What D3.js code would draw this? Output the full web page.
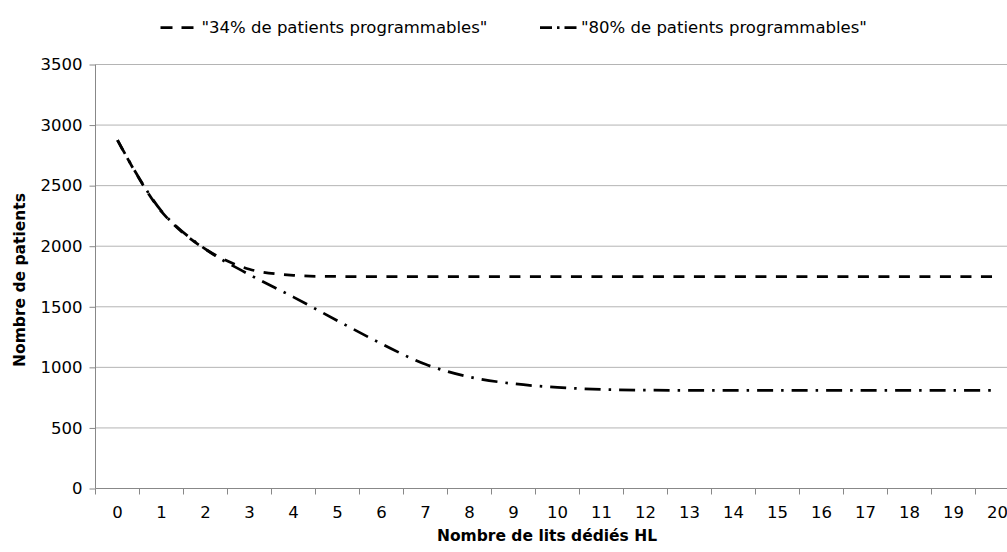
<!DOCTYPE html>
<html>
<head>
<meta charset="utf-8">
<script src="https://cdn.jsdelivr.net/npm/d3@7"></script>
<style>
  body { margin: 0; background: #fff; }
  svg { display: block; font-family: "DejaVu Sans", sans-serif; }
</style>
</head>
<body>
<svg id="chart"></svg>
<script>
// categories: number of dedicated beds
const beds = d3.range(0, 21).map(String)
const yTicks = [0, 500, 1000, 1500, 2000, 2500, 3000, 3500]

const seriesNames = ['"34% de patients programmables"', '"80% de patients programmables"']
const pct34 = [2875, 2285, 1975, 1810, 1760, 1750, 1750, 1750, 1750, 1750, 1750,
               1750, 1750, 1750, 1750, 1750, 1750, 1750, 1750, 1750, 1750]
const pct80 = [2875, 2290, 1975, 1765, 1580, 1385, 1195, 1025, 920, 865, 835,
               818, 812, 810, 810, 810, 810, 810, 810, 810, 810]

const width = 1007, height = 552
const svg = d3.select('#chart').attr('width', width).attr('height', height)

const x = d3.scaleBand().domain(beds).range([95.5, 1019.5]).padding(0)
const y = d3.scaleLinear().domain([0, 3500]).range([488.5, 64.5])

// gridlines
svg.append('g')
  .selectAll('line')
  .data(yTicks.slice(1))
  .join('line')
  .attr('x1', 95.5).attr('x2', width)
  .attr('y1', d => y(d)).attr('y2', d => y(d))
  .attr('stroke', '#b4b4b4').attr('stroke-width', 1)

// y axis
const yAxis = svg.append('g').attr('transform', 'translate(95.5,0)')
  .call(d3.axisLeft(y).tickValues(yTicks).tickFormat(d3.format('d')).tickSize(6).tickPadding(7))
yAxis.select('.domain').attr('stroke', '#888').attr('d', 'M0,' + y(3500) + 'V' + y(0))
yAxis.selectAll('.tick line').attr('stroke', '#888')
yAxis.selectAll('text').attr('font-size', 16.5).attr('fill', '#000')
  .attr('font-family', '"DejaVu Sans", sans-serif')

// x axis
const xAxis = svg.append('g').attr('transform', 'translate(0,' + y(0) + ')')
xAxis.append('line').attr('x1', 95.5).attr('x2', width).attr('stroke', '#888')
xAxis.selectAll('line.tk')
  .data(beds.concat(['end']))
  .join('line')
  .attr('class', 'tk')
  .attr('x1', d => d === 'end' ? x.range()[1] : x(d))
  .attr('x2', d => d === 'end' ? x.range()[1] : x(d))
  .attr('y1', 0).attr('y2', 6)
  .attr('stroke', '#888')
xAxis.selectAll('text')
  .data(beds)
  .join('text')
  .attr('x', d => x(d) + x.bandwidth() / 2)
  .attr('y', 29.5)
  .attr('text-anchor', 'middle')
  .attr('font-size', 16.5)
  .text(d => d)

// axis titles
svg.append('text')
  .attr('x', 547).attr('y', 541)
  .attr('text-anchor', 'middle')
  .attr('font-size', 15.5).attr('font-weight', 'bold')
  .text('Nombre de lits dédiés HL')
svg.append('text')
  .attr('transform', 'translate(20,280) rotate(-90)')
  .attr('text-anchor', 'middle')
  .attr('dy', '0.35em')
  .attr('font-size', 15.5).attr('font-weight', 'bold')
  .text('Nombre de patients')

// lines
const dashes = ['11,9.5', '16,8,2.5,8']
const line = d3.line()
  .x((d, i) => x(beds[i]) + x.bandwidth() / 2)
  .y(d => y(d))
  .curve(d3.curveCatmullRom.alpha(0.5))

svg.append('g')
  .selectAll('path')
  .data([pct34, pct80])
  .join('path')
  .attr('d', line)
  .attr('fill', 'none')
  .attr('stroke', '#000')
  .attr('stroke-width', 2.75)
  .attr('stroke-dasharray', (d, i) => dashes[i])

// legend
const legendX = [160.5, 540]
const legend = svg.append('g')
seriesNames.forEach((name, i) => {
  const g = legend.append('g').attr('transform', 'translate(' + legendX[i] + ',27.5)')
  g.append('line').attr('x1', 0).attr('x2', i === 0 ? 33 : 41)
    .attr('stroke', '#000').attr('stroke-width', 2.75)
    .attr('stroke-dasharray', i === 0 ? '12,9' : '12,5,2.5,5')
  g.append('text').attr('x', 41).attr('dy', '0.35em')
    .attr('font-size', 16.5).text(name)
})
</script>
</body>
</html>
